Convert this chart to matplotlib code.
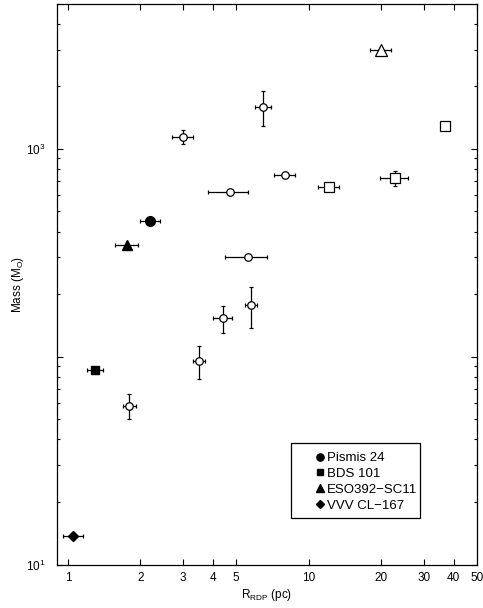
import matplotlib
matplotlib.use("Agg")
import matplotlib.pyplot as plt
from matplotlib.ticker import FixedLocator, NullFormatter, LogLocator, FuncFormatter
from matplotlib.lines import Line2D
from matplotlib.patches import Rectangle

plt.rcParams['font.family'] = ['Liberation Sans', 'DejaVu Sans']
plt.rcParams['mathtext.default'] = 'regular'

# Named clusters (filled symbols)
named_labels = ["Pismis 24", "BDS 101", "ESO392\u2212SC11", "VVV CL\u2212167"]
named_markers = ["o", "s", "^", "D"]
named_r = [2.2, 1.3, 1.76, 1.05]
named_rerr = [0.2, 0.1, 0.2, 0.1]
named_mass = [450, 86, 345, 13.7]

# Comparison clusters: open circles
circ_r = [6.47, 3.0, 4.7, 8.0, 5.6, 5.77, 4.4, 3.5, 1.8]
circ_rerr = [0.5, 0.3, 0.9, 0.8, 1.1, 0.32, 0.4, 0.2, 0.11]
circ_mass = [1590, 1140, 620, 750, 300, 177, 153, 95, 58]
circ_merr = [300, 90, 0, 0, 0, 40, 23, 17, 8]

# Comparison clusters: open squares
sq_r = [12.1, 22.8, 36.8]
sq_rerr = [1.2, 3.0, 0.0]
sq_mass = [657, 720, 1290]
sq_merr = [0, 60, 0]

# Comparison cluster: open triangle
tri_r = [20.0]
tri_rerr = [2.0]
tri_mass = [3000]
tri_merr = [0]

xticks = [1, 2, 3, 4, 5, 10, 20, 30, 40, 50]

fig = plt.figure(figsize=(4.83, 6.08), dpi=100)
ax = fig.add_axes([0.118, 0.0715, 0.8696, 0.9227])
ax.set_xscale('log')
ax.set_yscale('log')

eb_kw = dict(ecolor='black', elinewidth=0.9, capsize=1.6, capthick=0.9, linestyle='none', zorder=2)

ax.errorbar(circ_r, circ_mass, xerr=circ_rerr, yerr=circ_merr, fmt='o', mfc='white',
            mec='black', mew=0.9, ms=5.4, **eb_kw)
ax.errorbar(sq_r, sq_mass, xerr=sq_rerr, yerr=sq_merr, fmt='s', mfc='white',
            mec='black', mew=0.9, ms=7.2, **eb_kw)
ax.errorbar(tri_r, tri_mass, xerr=tri_rerr, yerr=tri_merr, fmt='^', mfc='white',
            mec='black', mew=0.9, ms=8.5, **eb_kw)

named_sizes = [7.0, 6.0, 7.0, 5.5]
for r, re, m, mk, s in zip(named_r, named_rerr, named_mass, named_markers, named_sizes):
    ax.errorbar([r], [m], xerr=[re], fmt=mk, mfc='black', mec='black', ms=s, **eb_kw)

ax.set_xlim(0.9, 50)
ax.set_ylim(10, 5000)

ax.xaxis.set_major_locator(FixedLocator(xticks))
ax.xaxis.set_minor_locator(FixedLocator([]))
ax.xaxis.set_major_formatter(FuncFormatter(lambda v, p: f"{v:g}"))
ax.xaxis.set_minor_formatter(NullFormatter())

ax.yaxis.set_major_locator(FixedLocator([10, 100, 1000]))
ax.yaxis.set_minor_locator(LogLocator(base=10, subs=range(2, 10)))
ylabels = {10: r'$10^{1}$', 1000: r'$10^{3}$'}
ax.yaxis.set_major_formatter(FuncFormatter(lambda v, p: ylabels.get(int(round(v)), '')))
ax.yaxis.set_minor_formatter(NullFormatter())

ax.tick_params(which='both', direction='in', top=True, right=True, labelsize=8.5,
               width=0.8, color='black')
ax.tick_params(which='major', length=4)
ax.tick_params(which='minor', length=2.5)
ax.tick_params(axis='x', which='major', pad=5.5)
ax.tick_params(axis='y', which='major', pad=8)
for sp in ax.spines.values():
    sp.set_linewidth(0.9)

ax.set_xlabel(r'$R_{RDP}$ (pc)', fontsize=8.5, labelpad=2)
ax.set_ylabel(r'Mass ($M_{O}$)', fontsize=8.5, labelpad=0.5)

# Legend: plain entries plus a separately drawn box
ax.add_patch(Rectangle((0.557, 0.0829), 0.864 - 0.557, 0.2166 - 0.0829,
                       transform=ax.transAxes, facecolor='white', edgecolor='black',
                       linewidth=0.9, zorder=4))
handles = [Line2D([], [], marker=mk, color='black', linestyle='none', ms=s)
           for mk, s in zip(named_markers, [5.2, 4.4, 5.4, 4.4])]
leg = ax.legend(handles, named_labels, loc='upper left', bbox_to_anchor=(0.6136, 0.2005),
                frameon=False, fontsize=9.5, handlelength=0.8,
                handletextpad=0.1, borderpad=0.0, labelspacing=0.27,
                borderaxespad=0.0)
leg.set_zorder(5)

fig.savefig('out.png', dpi=100)
